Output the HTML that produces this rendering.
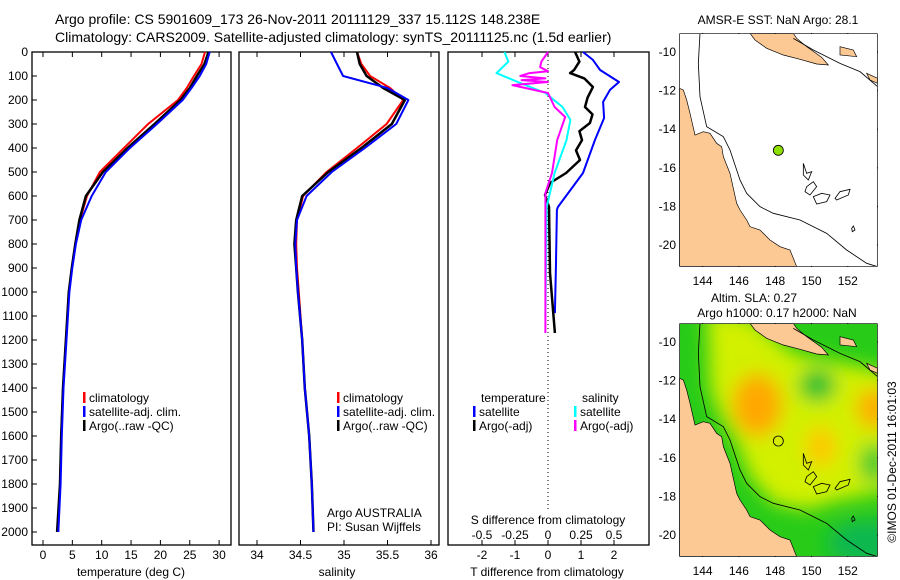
<!DOCTYPE html>
<html><head><meta charset="utf-8">
<style>
html,body{margin:0;padding:0;background:#fff;}
svg{display:block;font-family:"Liberation Sans",sans-serif;}
</style></head>
<body>
<svg id="chart" width="900" height="580" viewBox="0 0 900 580" xmlns="http://www.w3.org/2000/svg">
<defs>
 <filter id="blur" x="-50%" y="-50%" width="200%" height="200%"><feGaussianBlur stdDeviation="28"/></filter>
 <clipPath id="clipMap"><rect x="118" y="100" width="595" height="700"/></clipPath>
</defs>
<g font-size="14">
 <text x="55" y="24">Argo profile: CS 5901609_173 26-Nov-2011 20111129_337 15.112S 148.238E</text>
 <text x="55" y="42">Climatology: CARS2009. Satellite-adjusted climatology: synTS_20111125.nc (1.5d earlier)</text>
</g>
<g id="plots"></g>
<g>
 <text x="778" y="24" font-size="12" text-anchor="middle">AMSR-E SST: NaN Argo: 28.1</text>
 <g transform="translate(640,0) scale(0.33333)" clip-path="url(#clipMap)" id="map1"></g>
</g>
<g>
 <text x="754" y="302" font-size="12" text-anchor="middle">Altim. SLA: 0.27</text>
 <text x="777" y="317" font-size="12" text-anchor="middle">Argo h1000: 0.17 h2000: NaN</text>
 <g transform="translate(640,290) scale(0.33333)" clip-path="url(#clipMap)" id="map2"></g>
</g>
<text font-size="12" transform="translate(896,462) rotate(-90)" text-anchor="middle">©IMOS 01-Dec-2011 16:01:03</text>
</svg>
<script>
// ---- data ----
const depths = [0,50,100,150,200,300,400,500,600,700,800,900,1000,1200,1400,1600,1800,2000];
const tempClim = [27.6,27.0,25.7,24.5,23.0,17.9,13.8,9.7,7.5,6.3,5.5,4.9,4.4,3.9,3.4,3.1,2.9,2.6];
const tempSat  = [28.4,27.8,26.7,25.3,23.8,19.4,14.8,10.7,8.3,6.5,5.6,5.0,4.5,4.0,3.5,3.2,3.0,2.6];
const tempArgo = [28.2,27.5,26.2,25.0,23.4,19.0,14.4,10.2,7.3,6.2,5.5,4.9,4.4,3.9,3.4,3.1,2.9,2.4];
const salClim = [35.15,35.2,35.3,35.53,35.68,35.49,35.15,34.8,34.53,34.46,34.45,34.46,34.48,34.52,34.55,34.6,34.63,34.65];
const salSat  = [34.85,34.92,34.99,35.5,35.74,35.6,35.24,34.86,34.57,34.46,34.44,34.45,34.47,34.52,34.55,34.6,34.63,34.65];
const salArgo = [35.15,35.18,35.26,35.45,35.7,35.55,35.2,34.82,34.52,34.45,34.43,34.45,34.47,34.52,34.55,34.6,34.63,34.65];
const tSatDepth = [0,33,75,125,158,208,275,367,504,646,658,900,1088];
const tSatDiff  = [1.06,1.36,1.58,2.15,1.88,1.67,1.70,1.42,1.06,0.30,0.27,0.24,0.21];
const tArgoDepth = [0,40,75,88,110,146,190,229,260,296,330,367,410,450,504,546,596,646,921,1171];
const tArgoDiff  = [0.82,0.95,0.79,0.67,1.1,1.36,1.2,1.12,1.35,1.27,0.95,1.03,0.85,0.97,0.55,0.06,-0.09,0.03,0.06,0.21];
const sSatDepth = [0,40,88,129,171,229,283,367,504,646,1104];
const sSatDiff  = [-0.33,-0.3,-0.39,-0.21,-0.02,0.11,0.17,0.14,0.05,-0.01,-0.02];
const sArgoDepth = [0,40,63,80,88,100,110,117,125,138,171,229,271,367,504,588,671,1171];
const sArgoDiff  = [0,-0.05,-0.06,0.0,-0.14,-0.21,-0.02,-0.2,0.0,-0.27,0,0.05,0.13,0.07,0.03,-0.02,-0.02,-0.02];
const depthTicks = [0,100,200,300,400,500,600,700,800,900,1000,1100,1200,1300,1400,1500,1600,1700,1800,1900,2000];
const tempTicks = [0,5,10,15,20,25,30];
const salTicks = [34,34.5,35,35.5,36];
const tDiffTicks = [-2,-1,0,1,2];
const sDiffTicks = [-0.5,-0.25,0,0.25,0.5];
const sDiffTickLabels = ["-0.5","-0.25","0","0.25","0.5"];

// ---- axes ----
const Y0 = 52, YS = 0.24, PB = 545;
const yD = d => Y0 + d*YS;
const xT = t => 43 + t*5.87;
const xS = s => 257 + (s-34)*87;
const xTd = t => 548 + t*33;
const xSd = s => 548 + s*132;

const NS = "http://www.w3.org/2000/svg";
const plots = document.getElementById('plots');
function mk(tag, attrs, parent){ const e=document.createElementNS(NS,tag); for(const k in attrs) e.setAttribute(k,attrs[k]); (parent||plots).appendChild(e); return e; }
function txt(x,y,s,anchor,size,parent){ const t=mk('text',{x:x,y:y,'font-size':size||12,'text-anchor':anchor||'start'},parent); t.textContent=s; return t; }

function panel(x0,x1,name){
  const r = mk('rect',{x:x0,y:Y0,width:x1-x0,height:PB-Y0,fill:'none',stroke:'#000','stroke-width':1.3});
  
  
}
panel(32,231,'temperature-panel');
panel(239,439,'salinity-panel');
panel(448,649,'difference-panel');

depthTicks.forEach(d=>{
  mk('line',{x1:32,x2:37,y1:yD(d),y2:yD(d),stroke:'#000'});
  const t = txt(28,yD(d)+4,String(d),'end');
  
  
});
function xticks(ticks,fx,labels,ylab){
  ticks.forEach((v,i)=>{
    mk('line',{x1:fx(v),x2:fx(v),y1:Y0,y2:Y0+5,stroke:'#000'});
    mk('line',{x1:fx(v),x2:fx(v),y1:PB,y2:PB-5,stroke:'#000'});
    const t = txt(fx(v),ylab,labels?labels[i]:String(v),'middle');
    
    
  });
}
xticks(tempTicks,xT,null,559);
xticks(salTicks,xS,null,559);
xticks(tDiffTicks,xTd,null,559);
sDiffTicks.forEach((v,i)=>{
  const t = txt(xSd(v),539,sDiffTickLabels[i],'middle');
  
  
});
let tt;
tt = txt(131,576,'temperature (deg C)','middle');  
tt = txt(337,576,'salinity','middle');  
tt = txt(547,576,'T difference from climatology','middle');  
tt = txt(548,524,'S difference from climatology','middle');  

const zl = mk('line',{x1:548,x2:548,y1:Y0,y2:512,stroke:'#000','stroke-dasharray':'1,3'});



function series(ds,vs,fx,color,w,name){
  const pts = ds.map((d,i)=>fx(vs[i]).toFixed(1)+','+yD(d).toFixed(1)).join(' ');
  const p = mk('polyline',{points:pts,fill:'none',stroke:color,'stroke-width':w,'stroke-linejoin':'round'});
  
  
}
series(depths,tempClim,xT,'#f00',2,'temp-climatology-line');
series(depths,tempArgo,xT,'#000',2.5,'temp-argo-line');
series(depths,tempSat,xT,'#00f',2,'temp-satellite-line');
series(depths,salClim,xS,'#f00',2,'sal-climatology-line');
series(depths,salArgo,xS,'#000',2.5,'sal-argo-line');
series(depths,salSat,xS,'#00f',2,'sal-satellite-line');
series(tSatDepth,tSatDiff,xTd,'#00f',2,'t-diff-satellite-line');
series(tArgoDepth,tArgoDiff,xTd,'#000',2.5,'t-diff-argo-line');
series(sSatDepth,sSatDiff,xSd,'#0ff',2,'s-diff-satellite-line');
series(sArgoDepth,sArgoDiff,xSd,'#f0f',2,'s-diff-argo-line');

function leg(x,y,color,label,name){
  const g = mk('g',{});
  
  
  mk('rect',{x:x,y:y-10,width:2.5,height:11,fill:color},g);
  txt(x+6,y,label,'start',12,g);
}
leg(83,402,'#f00','climatology','legend-climatology');
leg(83,416,'#00f','satellite-adj. clim.','legend-satellite-adj');
leg(83,430,'#000','Argo(..raw -QC)','legend-argo');
leg(337,402,'#f00','climatology','legend-climatology-sal');
leg(337,416,'#00f','satellite-adj. clim.','legend-satellite-adj-sal');
leg(337,430,'#000','Argo(..raw -QC)','legend-argo-sal');
tt = txt(481,402,'temperature');  
tt = txt(582,402,'salinity');  
leg(473,416,'#00f','satellite','legend-t-satellite');
leg(473,430,'#000','Argo(-adj)','legend-t-argo');
leg(574,416,'#0ff','satellite','legend-s-satellite');
leg(574,430,'#f0f','Argo(-adj)','legend-s-argo');
tt = txt(327,517,'Argo AUSTRALIA');  
tt = txt(327,531,'PI: Susan Wijffels');  

// ---- maps (3x zoom coordinates) ----
const landAus = "118,265 130,270 140,300 150,340 165,405 190,395 210,400 230,430 245,440 250,470 270,520 290,610 300,630 320,660 330,680 360,690 390,720 420,740 450,750 470,800 118,800";
const landPNG = "330,100 345,120 380,145 430,165 480,178 530,192 565,195 545,172 500,140 470,115 460,100";
const landPNG2 = "600,140 640,150 650,170 600,165";
const landPNG3 = "680,220 713,235 713,250 690,240";
const shelf = "180,100 175,190 180,290 200,380 250,410 270,450 300,540 320,580 360,620 400,640 480,660 560,700 620,750 680,790 713,800";
const png2 = "460,115 520,150 600,190 660,215 713,260";
const reefs = ["490,490 500,520 515,515 505,540 490,525","500,560 520,545 530,560 510,585 495,575","520,590 545,580 570,585 560,605 530,612","585,595 600,575 630,568 625,585 590,600","635,685 640,678 645,690 637,695"];
function drawMap(id,colored,cx,cy,fill){
  const g=document.getElementById(id);
  mk('rect',{x:118,y:100,width:595,height:700,fill:colored?'#28cc18':'#fff'},g);
  if(colored){
    const b=mk('g',{filter:'url(#blur)'},g);
    mk('polygon',{points:"200,60 330,80 460,190 760,250 760,600 600,630 500,660 400,640 330,560 290,460 240,380 210,300",fill:'#d2f000'},b);
    mk('ellipse',{cx:352,cy:345,rx:75,ry:95,fill:'#ffa800'},b);
    mk('ellipse',{cx:700,cy:355,rx:50,ry:60,fill:'#ffac00'},b);
    mk('ellipse',{cx:543,cy:470,rx:45,ry:60,fill:'#ffc800'},b);
    mk('ellipse',{cx:532,cy:285,rx:55,ry:50,fill:'#10c030'},b);
    mk('ellipse',{cx:700,cy:520,rx:40,ry:60,fill:'#30c830'},b);
    mk('ellipse',{cx:680,cy:760,rx:120,ry:70,fill:'#10b850'},b);
  }
  mk('polygon',{points:landAus,fill:'#fcc894',stroke:'#000','stroke-width':2},g);
  [landPNG,landPNG2,landPNG3].forEach(p=>mk('polygon',{points:p,fill:'#fcc894',stroke:'#000','stroke-width':2},g));
  mk('polyline',{points:shelf,fill:'none',stroke:'#000','stroke-width':2.5},g);
  mk('polyline',{points:png2,fill:'none',stroke:'#000','stroke-width':2.5},g);
  reefs.forEach(r=>mk('polygon',{points:r,fill:'none',stroke:'#000','stroke-width':2.5},g));
  const c=mk('circle',{cx:cx,cy:cy,r:15,fill:fill,stroke:'#000','stroke-width':2.5},g);
  
  
  mk('rect',{x:118,y:100,width:595,height:700,fill:'none',stroke:'#000','stroke-width':4},g);
}
drawMap('map1',false,415,451,'#8ee000');
drawMap('map2',true,415,453,'none');

const mapLon = [144,146,148,150,152];
const mapLat = [-10,-12,-14,-16,-18,-20];
const lonX = lon => 679 + (lon-142.7)*18.15;
const latY1 = lat => 52 + (-10-lat)*19.3;
[[0,285],[290,575]].forEach(([dy,ylab])=>{
  mapLon.forEach(l=>{
    const t=txt(lonX(l),ylab,String(l),'middle');
    
    
    mk('line',{x1:lonX(l),x2:lonX(l),y1:33+dy,y2:37+dy,stroke:'#000'});
    mk('line',{x1:lonX(l),x2:lonX(l),y1:267+dy,y2:263+dy,stroke:'#000'});
  });
  mapLat.forEach(l=>{
    const t=txt(676,latY1(l)+dy+4,String(l),'end');
    
    
    mk('line',{x1:874,x2:878,y1:latY1(l)+dy,y2:latY1(l)+dy,stroke:'#000'});
  });
});
</script>
</body></html>
